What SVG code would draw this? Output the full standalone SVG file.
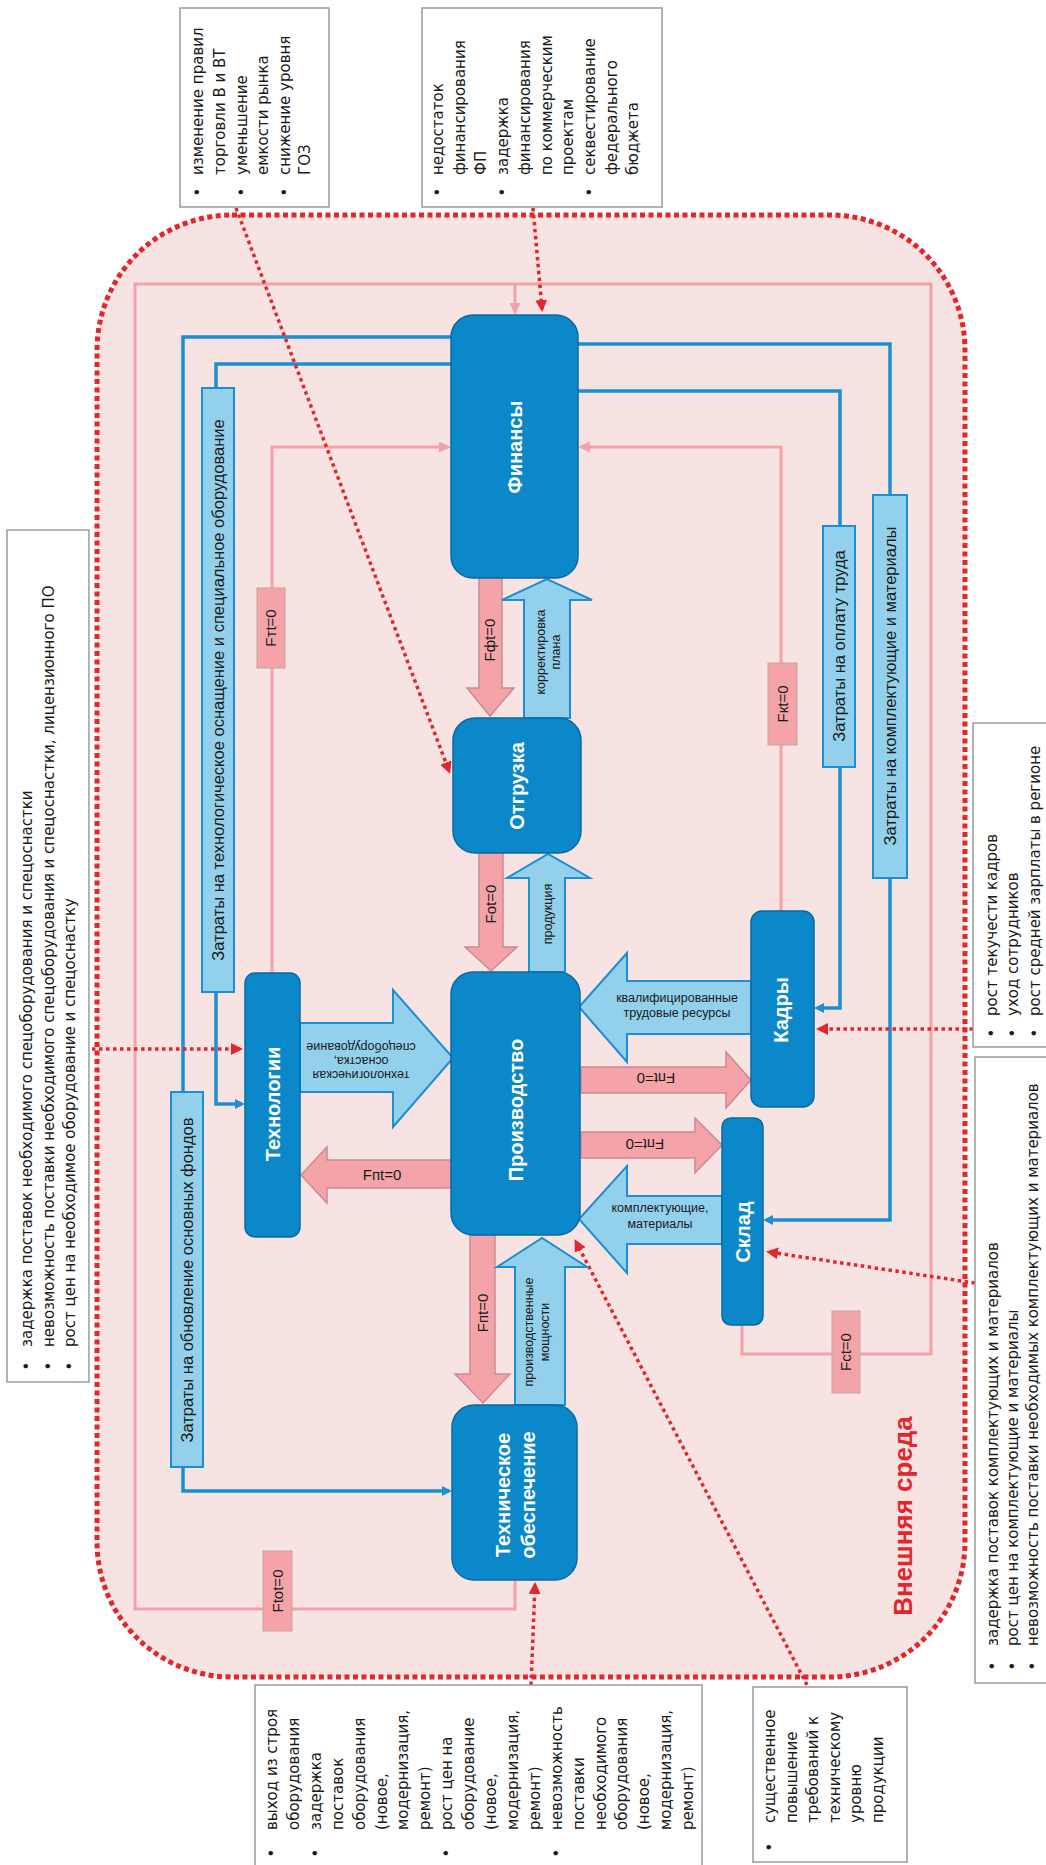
<svg xmlns="http://www.w3.org/2000/svg" width="1046" height="1865" viewBox="0 0 1046 1865">
<defs>
<style>
.node{fill:#0a88ca;stroke:#0a6aa3;stroke-width:1.5}
.ntxt{font-family:"Liberation Sans",Arial,sans-serif;font-weight:bold;font-size:20px;fill:#fff;text-anchor:middle}
.blue{fill:none;stroke:#1b8fd2;stroke-width:3.5}
.pink{fill:none;stroke:#f3a3a8;stroke-width:3}
.red{fill:none;stroke:#e3262b;stroke-width:3.5;stroke-dasharray:3.5 3.5}
.lb{fill:#93d0ec;stroke:#1b8fd2;stroke-width:2}
.pa{fill:#f4a4a9;stroke:#c98b96;stroke-width:1.5}
.flab{fill:#f4a4a9;stroke:#c4a2a8;stroke-width:1}
.box{fill:#fff;stroke:#9a9a9a;stroke-width:1.5}
.bt{font-family:"DejaVu Sans",sans-serif;font-size:15px;fill:#1a1a1a}
.bu{font-family:"DejaVu Sans",sans-serif;font-size:15px;fill:#1a1a1a;text-anchor:middle}
.ct{font-family:"Liberation Sans",Arial,sans-serif;font-size:16.5px;fill:#1a1a1a;text-anchor:middle}
.ft{font-family:"Liberation Sans",Arial,sans-serif;font-size:15px;fill:#1a1a1a;text-anchor:middle}
.at{font-family:"Liberation Sans",Arial,sans-serif;font-size:12.5px;fill:#1a1a1a;text-anchor:middle}
.env{font-family:"Liberation Sans",Arial,sans-serif;font-weight:bold;font-size:26px;fill:#e3262b;text-anchor:middle}
</style>
<marker id="ab" markerWidth="12" markerHeight="12" refX="7" refY="5" orient="auto" markerUnits="userSpaceOnUse"><path d="M0,0 L10,5 L0,10 z" fill="#1b8fd2"/></marker>
<marker id="ap" markerWidth="14" markerHeight="12" refX="9" refY="5.5" orient="auto" markerUnits="userSpaceOnUse"><path d="M0,0 L12,5.5 L0,11 z" fill="#f3a3a8"/></marker>
<marker id="ar" markerWidth="14" markerHeight="12" refX="9" refY="6" orient="auto" markerUnits="userSpaceOnUse"><path d="M0,0 L12,6 L0,12 z" fill="#e3262b"/></marker>
</defs>
<rect width="1046" height="1865" fill="#fff"/>

<g id="env">
<rect x="97" y="215" width="868" height="1462" rx="135" ry="135" fill="#f8e3e3" stroke="#e3262b" stroke-width="5" stroke-dasharray="5 3.5"/>
<text class="env" transform="translate(912,1516) rotate(-90)">Внешняя среда</text>
</g>

<g id="connectors">
<path class="pink" d="M515,1580 V1609 H135 V284 H931 V1354 H742 V1325"/>
<path class="pink" d="M515,284 V312" marker-end="url(#ap)"/>
<path class="pink" d="M272,973 V447 H448" marker-end="url(#ap)"/>
<path class="pink" d="M781,911 V447 H581" marker-end="url(#ap)"/>
<path class="blue" d="M451,337 H183 V1092"/>
<path class="blue" d="M183,1467 V1491 H449" marker-end="url(#ab)"/>
<path class="blue" d="M451,364 H216 V388"/>
<path class="blue" d="M216,992 V1104 H242" marker-end="url(#ab)"/>
<path class="blue" d="M578,344 H890 V495"/>
<path class="blue" d="M890,878 V1220 H766" marker-end="url(#ab)"/>
<path class="blue" d="M578,391 H840 V526"/>
<path class="blue" d="M840,767 V1008 H817" marker-end="url(#ab)"/>
<path class="red" d="M236,208 L449,771" marker-end="url(#ar)"/>
<path class="red" d="M533,208 L542,309" marker-end="url(#ar)"/>
<path class="red" d="M92,1049 L240,1049" marker-end="url(#ar)"/>
<path class="red" d="M973,1029 L819,1029" marker-end="url(#ar)"/>
<path class="red" d="M975,1283 L769,1252" marker-end="url(#ar)"/>
<path class="red" d="M807,1685 L576,1242" marker-end="url(#ar)"/>
<path class="red" d="M531,1685 L535,1585" marker-end="url(#ar)"/>
</g>

<g id="flow-labels">
<rect class="flab" x="257" y="588" width="28" height="80"/>
<text class="ft" transform="translate(276,628) rotate(-90)">Fтt=0</text>
<rect class="flab" x="768" y="663" width="29" height="82"/>
<text class="ft" transform="translate(787.5,704) rotate(-90)">Fкt=0</text>
<rect class="flab" x="263" y="1551" width="29" height="80"/>
<text class="ft" transform="translate(282.5,1591) rotate(-90)">Ftot=0</text>
<rect class="flab" x="832" y="1311" width="28" height="82"/>
<text class="ft" transform="translate(851,1352) rotate(-90)">Fct=0</text>
</g>

<g id="cost-labels">
<g id="cost-tech"><rect class="lb" x="202" y="388" width="32" height="604"/>
<text class="ct" transform="translate(224,690) rotate(-90)">Затраты на технологическое оснащение и специальное оборудование</text></g>
<g id="cost-funds"><rect class="lb" x="171" y="1092" width="32" height="375"/>
<text class="ct" transform="translate(193,1280) rotate(-90)">Затраты на обновление основных фондов</text></g>
<g id="cost-labor"><rect class="lb" x="823" y="526" width="32" height="241"/>
<text class="ct" transform="translate(845,646) rotate(-90)">Затраты на оплату труда</text></g>
<g id="cost-mat"><rect class="lb" x="873" y="495" width="34" height="383"/>
<text class="ct" transform="translate(896,686) rotate(-90)">Затраты на комплектующие и материалы</text></g>
</g>

<g id="flows">
<polygon class="pa" points="479,578 502,578 502,688 514,688 490,716 467,688 479,688"/>
<text class="ft" transform="translate(495,640) rotate(-90)">Fфt=0</text>
<polygon class="lb" points="524,718 524,600 502,600 547,579 592,600 570,600 570,718"/>
<text class="at" transform="translate(544.5,652) rotate(-90)">корректировка</text>
<text class="at" transform="translate(559.5,652) rotate(-90)">плана</text>
<polygon class="pa" points="479,853 503,853 503,947 517,947 491,971 465,947 479,947"/>
<text class="ft" transform="translate(496,904) rotate(-90)">Fоt=0</text>
<polygon class="lb" points="529,972 529,878 507,878 548,854 590,878 565,878 565,972"/>
<text class="at" transform="translate(551.5,914) rotate(-90)">продукция</text>
<polygon class="lb" points="300,1023 393,1023 393,990 453,1058 393,1127 393,1092 300,1092"/>
<g transform="rotate(180 361 1061)">
<text class="at" x="361" y="1051">технологическая</text>
<text class="at" x="361" y="1065">оснастка,</text>
<text class="at" x="361" y="1079">спецоборудование</text>
</g>
<polygon class="pa" points="451,1160 327,1160 327,1147 301,1175 327,1203 327,1188 451,1188"/>
<text class="ft" x="382" y="1180">Fпt=0</text>
<polygon class="lb" points="751,981 627,981 627,953 579,1007 627,1062 627,1034 751,1034"/>
<text class="at" x="677" y="1002">квалифицированные</text>
<text class="at" x="677" y="1017">трудовые ресурсы</text>
<polygon class="pa" points="581,1067 726,1067 726,1052 751,1080 726,1108 726,1093 581,1093"/>
<text class="ft" x="656" y="1083" transform="rotate(180 656 1078)">Fпt=0</text>
<polygon class="pa" points="581,1132 695,1132 695,1118 722,1145 695,1173 695,1158 581,1158"/>
<text class="ft" x="645" y="1149" transform="rotate(180 645 1144)">Fпt=0</text>
<polygon class="lb" points="722,1196 627,1196 627,1166 579,1219 627,1273 627,1244 722,1244"/>
<text class="at" x="660" y="1212">комплектующие,</text>
<text class="at" x="660" y="1228">материалы</text>
<polygon class="pa" points="470,1235 495,1235 495,1374 510,1374 483,1403 455,1374 470,1374"/>
<text class="ft" transform="translate(488,1313) rotate(-90)">Fпt=0</text>
<polygon class="lb" points="515,1405 515,1267 497,1267 542,1238 587,1267 565,1267 565,1405"/>
<text class="at" transform="translate(532.5,1332) rotate(-90)">производственные</text>
<text class="at" transform="translate(548.5,1332) rotate(-90)">мощности</text>
</g>

<g id="finance"><rect class="node" x="451" y="315" width="127" height="263" rx="22"/>
<text class="ntxt" transform="translate(522,447) rotate(-90)">Финансы</text></g>
<g id="shipment"><rect class="node" x="453" y="718" width="128" height="135" rx="22"/>
<text class="ntxt" transform="translate(524,786) rotate(-90)">Отгрузка</text></g>
<g id="production"><rect class="node" x="451" y="972" width="129" height="263" rx="22"/>
<text class="ntxt" transform="translate(523,1110) rotate(-90)">Производство</text></g>
<g id="technology"><rect class="node" x="245" y="973" width="55" height="264" rx="10"/>
<text class="ntxt" transform="translate(280,1104) rotate(-90)">Технологии</text></g>
<g id="staff"><rect class="node" x="751" y="911" width="63" height="196" rx="11"/>
<text class="ntxt" transform="translate(788,1010) rotate(-90)">Кадры</text></g>
<g id="warehouse"><rect class="node" x="722" y="1118" width="41" height="207" rx="9"/>
<text class="ntxt" transform="translate(750,1232) rotate(-90)">Склад</text></g>
<g id="tech-support"><rect class="node" x="452" y="1405" width="125" height="175" rx="22"/>
<text class="ntxt" transform="translate(510,1495) rotate(-90)">Техническое</text>
<text class="ntxt" transform="translate(535,1495) rotate(-90)">обеспечение</text></g>

<g id="box-market">
<rect class="box" x="180" y="8" width="149" height="199"/>
<text class="bu" transform="translate(203,192) rotate(-90)">•</text>
<text class="bu" transform="translate(247,192) rotate(-90)">•</text>
<text class="bu" transform="translate(290,192) rotate(-90)">•</text>
<text class="bt" transform="translate(203,175) rotate(-90)">изменение правил</text>
<text class="bt" transform="translate(225,175) rotate(-90)">торговли В и ВТ</text>
<text class="bt" transform="translate(247,175) rotate(-90)">уменьшение</text>
<text class="bt" transform="translate(268,175) rotate(-90)">емкости рынка</text>
<text class="bt" transform="translate(290,175) rotate(-90)">снижение уровня</text>
<text class="bt" transform="translate(310,175) rotate(-90)">ГОЗ</text>
</g>

<g id="box-finance">
<rect class="box" x="422" y="8" width="240" height="199"/>
<text class="bu" transform="translate(443,192) rotate(-90)">•</text>
<text class="bu" transform="translate(508,192) rotate(-90)">•</text>
<text class="bu" transform="translate(595,192) rotate(-90)">•</text>
<text class="bt" transform="translate(443,175) rotate(-90)">недостаток</text>
<text class="bt" transform="translate(464.7,175) rotate(-90)">финансирования</text>
<text class="bt" transform="translate(486.4,175) rotate(-90)">ФП</text>
<text class="bt" transform="translate(508.1,175) rotate(-90)">задержка</text>
<text class="bt" transform="translate(529.8,175) rotate(-90)">финансирования</text>
<text class="bt" transform="translate(551.5,175) rotate(-90)">по коммерческим</text>
<text class="bt" transform="translate(573.2,175) rotate(-90)">проектам</text>
<text class="bt" transform="translate(594.9,175) rotate(-90)">секвестирование</text>
<text class="bt" transform="translate(616.6,175) rotate(-90)">федерального</text>
<text class="bt" transform="translate(638.3,175) rotate(-90)">бюджета</text>
</g>

<g id="box-tech">
<rect class="box" x="7" y="530" width="82" height="852"/>
<text class="bu" transform="translate(32,1366) rotate(-90)">•</text>
<text class="bu" transform="translate(54,1366) rotate(-90)">•</text>
<text class="bu" transform="translate(75,1366) rotate(-90)">•</text>
<text class="bt" transform="translate(32,1347) rotate(-90)">задержка поставок необходимого спецоборудования и спецоснастки</text>
<text class="bt" transform="translate(54,1347) rotate(-90)">невозможность поставки необходимого спецоборудования и спецоснастки, лицензионного ПО</text>
<text class="bt" transform="translate(75,1347) rotate(-90)">рост цен на необходимое оборудование и спецоснастку</text>
</g>

<g id="box-staff">
<rect class="box" x="973" y="723" width="90" height="324"/>
<text class="bu" transform="translate(997,1033) rotate(-90)">•</text>
<text class="bu" transform="translate(1018,1033) rotate(-90)">•</text>
<text class="bu" transform="translate(1040,1033) rotate(-90)">•</text>
<text class="bt" transform="translate(997,1016) rotate(-90)">рост текучести кадров</text>
<text class="bt" transform="translate(1018,1016) rotate(-90)">уход сотрудников</text>
<text class="bt" transform="translate(1040,1016) rotate(-90)">рост средней зарплаты в регионе</text>
</g>

<g id="box-materials">
<rect class="box" x="975" y="1057" width="90" height="626"/>
<text class="bu" transform="translate(998,1666) rotate(-90)">•</text>
<text class="bu" transform="translate(1018,1666) rotate(-90)">•</text>
<text class="bu" transform="translate(1038,1666) rotate(-90)">•</text>
<text class="bt" transform="translate(998,1646) rotate(-90)">задержка поставок комплектующих и материалов</text>
<text class="bt" transform="translate(1018,1646) rotate(-90)">рост цен на  комплектующие и материалы</text>
<text class="bt" transform="translate(1038,1646) rotate(-90)">невозможность поставки необходимых комплектующих и материалов</text>
</g>

<g id="box-equipment">
<rect class="box" x="255" y="1685" width="447" height="200"/>
<text class="bu" transform="translate(277,1853) rotate(-90)">•</text>
<text class="bu" transform="translate(320.8,1853) rotate(-90)">•</text>
<text class="bu" transform="translate(452.2,1853) rotate(-90)">•</text>
<text class="bu" transform="translate(561.7,1853) rotate(-90)">•</text>
<text class="bt" transform="translate(277,1830) rotate(-90)">выход из строя</text>
<text class="bt" transform="translate(298.9,1830) rotate(-90)">оборудования</text>
<text class="bt" transform="translate(320.8,1830) rotate(-90)">задержка</text>
<text class="bt" transform="translate(342.7,1830) rotate(-90)">поставок</text>
<text class="bt" transform="translate(364.6,1830) rotate(-90)">оборудования</text>
<text class="bt" transform="translate(386.5,1830) rotate(-90)">(новое,</text>
<text class="bt" transform="translate(408.4,1830) rotate(-90)">модернизация,</text>
<text class="bt" transform="translate(430.3,1830) rotate(-90)">ремонт)</text>
<text class="bt" transform="translate(452.2,1830) rotate(-90)">рост цен на</text>
<text class="bt" transform="translate(474.1,1830) rotate(-90)">оборудование</text>
<text class="bt" transform="translate(496,1830) rotate(-90)">(новое,</text>
<text class="bt" transform="translate(517.9,1830) rotate(-90)">модернизация,</text>
<text class="bt" transform="translate(539.8,1830) rotate(-90)">ремонт)</text>
<text class="bt" transform="translate(561.7,1830) rotate(-90)">невозможность</text>
<text class="bt" transform="translate(583.6,1830) rotate(-90)">поставки</text>
<text class="bt" transform="translate(605.5,1830) rotate(-90)">необходимого</text>
<text class="bt" transform="translate(627.4,1830) rotate(-90)">оборудования</text>
<text class="bt" transform="translate(649.3,1830) rotate(-90)">(новое,</text>
<text class="bt" transform="translate(671.2,1830) rotate(-90)">модернизация,</text>
<text class="bt" transform="translate(693.1,1830) rotate(-90)">ремонт)</text>
</g>

<g id="box-requirements">
<rect class="box" x="753" y="1687" width="154" height="175"/>
<text class="bu" transform="translate(775,1847) rotate(-90)">•</text>
<text class="bt" transform="translate(775,1823) rotate(-90)">существенное</text>
<text class="bt" transform="translate(796.5,1823) rotate(-90)">повышение</text>
<text class="bt" transform="translate(818,1823) rotate(-90)">требований к</text>
<text class="bt" transform="translate(839.5,1823) rotate(-90)">техническому</text>
<text class="bt" transform="translate(861,1823) rotate(-90)">уровню</text>
<text class="bt" transform="translate(882.5,1823) rotate(-90)">продукции</text>
</g>
</svg>
